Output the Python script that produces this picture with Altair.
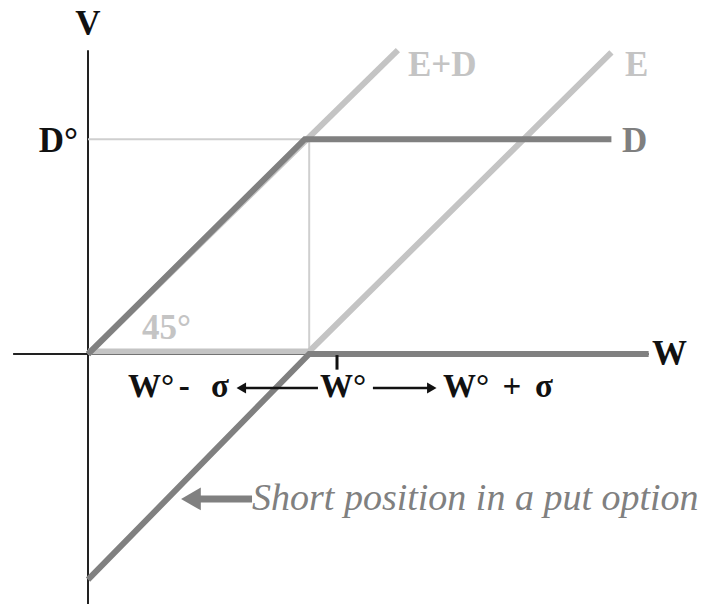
import altair as alt
import pandas as pd

# ---- data (in units of W° = 1) ----
d_w = [0.0, 0.99, 2.39]          # D line (debt value)
d_v = [0.0, 0.99, 0.99]
ed_w = [0.0, 1.415]              # E+D line (45°)
ed_v = [0.0, 1.40]
e_w = [0.0, 1.01, 2.39]          # E line (equity)
e_v = [0.012, 0.012, 1.39]
put_w = [0.0, 1.01, 2.56]        # short put
put_v = [-1.04, 0.0, 0.0]
w_star = 1.01
d_star = 0.99

labels = ["V", "D°", "E+D", "E", "D", "W", "45°"]
label_w = [0.0, -0.046, 1.461, 2.452, 2.438, 2.575, 0.247]
label_v = [1.47, 0.93, 1.281, 1.281, 0.93, -0.051, 0.069]
label_color = ["#111111", "#111111", "#c4c4c4", "#c4c4c4", "#7f7f7f", "#111111", "#c4c4c4"]
label_align = ["center", "right", "left", "left", "left", "left", "left"]

row_labels = ["W°", "-", "σ", "W°", "W°", "+", "σ"]
row_w = [0.183, 0.439, 0.603, 1.059, 1.621, 1.936, 2.082]
row_v = [-0.198] * 7
row_align = ["left", "center", "center", "left", "left", "center", "center"]

note = "Short position in a put option"

X = alt.Scale(domain=[-0.3653, 2.7854], nice=False, zero=False)
Y = alt.Scale(domain=[-1.152, 1.5945], nice=False, zero=False)


def line_df(ws, vs):
    return pd.DataFrame({"w": ws, "v": vs, "o": list(range(len(ws)))})


def line(ws, vs, color, width):
    return alt.Chart(line_df(ws, vs)).mark_line(
        color=color, strokeWidth=width, strokeCap="butt", strokeJoin="miter"
    ).encode(
        x=alt.X("w:Q", scale=X, axis=None),
        y=alt.Y("v:Q", scale=Y, axis=None),
        order="o:O",
    )


def rules(df, color, width):
    return alt.Chart(df).mark_rule(color=color, strokeWidth=width).encode(
        x=alt.X("x1:Q", scale=X, axis=None), x2="x2:Q",
        y=alt.Y("y1:Q", scale=Y, axis=None), y2="y2:Q",
    )


axes_df = pd.DataFrame({
    "x1": [-0.342, 0.0], "x2": [2.56, 0.0],
    "y1": [0.0, 1.40], "y2": [0.0, -1.19],
})
guide_df = pd.DataFrame({
    "x1": [w_star, 0.0], "x2": [w_star, w_star],
    "y1": [0.0, d_star], "y2": [d_star, d_star],
})
tick_df = pd.DataFrame({"x1": [1.137], "x2": [1.137], "y1": [-0.005], "y2": [-0.072]})

arrow_lines = pd.DataFrame({
    "x1": [1.05, 1.301], "x2": [0.717, 1.56],
    "y1": [-0.157, -0.157], "y2": [-0.157, -0.157],
})
arrow_heads = pd.DataFrame({"x": [0.70, 1.57], "y": [-0.157, -0.157],
                            "s": ["triangle-left", "triangle-right"]})

put_arrow_line = pd.DataFrame({"x1": [0.50], "x2": [0.749], "y1": [-0.668], "y2": [-0.668]})
put_arrow_head = pd.DataFrame({"x": [0.47], "y": [-0.668]})

lab_df = pd.DataFrame({"t": labels, "w": label_w, "v": label_v,
                       "c": label_color, "a": label_align})
row_df = pd.DataFrame({"t": row_labels, "w": row_w, "v": row_v, "a": row_align})

layers = [
    rules(axes_df, "#222222", 2),
    rules(guide_df, "#cfcfcf", 2),
    line(ed_w, ed_v, "#c4c4c4", 6),
    line(e_w, e_v, "#c4c4c4", 6),
    line(d_w, d_v, "#808080", 6),
    line(put_w, put_v, "#808080", 6),
    rules(tick_df, "#111111", 3),
    rules(arrow_lines, "#111111", 2.5),
    alt.Chart(arrow_heads).mark_point(filled=True, size=120, color="#111111", opacity=1).encode(
        x=alt.X("x:Q", scale=X, axis=None), y=alt.Y("y:Q", scale=Y, axis=None),
        shape=alt.Shape("s:N", scale=None),
    ),
    rules(put_arrow_line, "#808080", 7),
    alt.Chart(put_arrow_head).mark_point(filled=True, size=520, color="#808080", opacity=1,
                                         shape="triangle-left").encode(
        x=alt.X("x:Q", scale=X, axis=None), y=alt.Y("y:Q", scale=Y, axis=None),
    ),
]

for a in ["left", "center", "right"]:
    sub = lab_df[lab_df["a"] == a]
    if len(sub):
        layers.append(
            alt.Chart(sub).mark_text(font="Liberation Serif", fontWeight="bold", fontSize=35,
                                     align=a, baseline="alphabetic").encode(
                x=alt.X("w:Q", scale=X, axis=None), y=alt.Y("v:Q", scale=Y, axis=None),
                text="t:N", color=alt.Color("c:N", scale=None),
            )
        )
    sub = row_df[row_df["a"] == a]
    if len(sub):
        layers.append(
            alt.Chart(sub).mark_text(font="Liberation Serif", fontWeight="bold", fontSize=33,
                                     align=a, baseline="alphabetic", color="#111111").encode(
                x=alt.X("w:Q", scale=X, axis=None), y=alt.Y("v:Q", scale=Y, axis=None),
                text="t:N",
            )
        )

layers.append(
    alt.Chart(pd.DataFrame({"t": [note], "w": [0.749], "v": [-0.719]})).mark_text(
        font="Liberation Serif", fontStyle="italic", fontSize=38, align="left",
        baseline="alphabetic", color="#808080",
    ).encode(
        x=alt.X("w:Q", scale=X, axis=None), y=alt.Y("v:Q", scale=Y, axis=None), text="t:N",
    )
)

chart = alt.layer(*layers).properties(
    width=690, height=596, padding=0, autosize=alt.AutoSizeParams(type="none"),
).configure_view(stroke=None)

chart.save("out.html", embed_options={"renderer": "svg", "actions": False})
